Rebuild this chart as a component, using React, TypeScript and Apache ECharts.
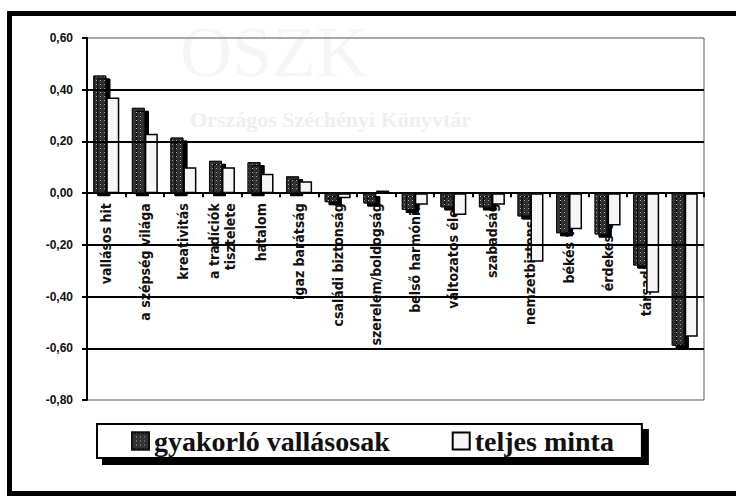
import React, { useEffect, useRef } from "react";
import * as echarts from "echarts";

const categories = [
  "vallásos hit",
  "a szépség világa",
  "kreativitás",
  "a tradíciók\ntisztelete",
  "hatalom",
  "igaz barátság",
  "családi biztonság",
  "szerelem/boldogság",
  "belső harmónia",
  "változatos élet",
  "szabadság",
  "nemzetbiztonság",
  "békés világ",
  "érdekes élet",
  "társadalmi rend",
  "gazdagság",
];

const gyakorloVallasosak = [
  0.455, 0.33, 0.215, 0.125, 0.12, 0.065, -0.035, -0.04, -0.065, -0.055, -0.055,
  -0.09, -0.155, -0.16, -0.28, -0.59,
];

const teljesMinta = [
  0.37, 0.23, 0.1, 0.1, 0.075, 0.046, -0.02, 0.01, -0.045, -0.085, -0.045,
  -0.265, -0.14, -0.125, -0.385, -0.555,
];

const seriesNames = ["gyakorló vallásosak", "teljes minta"];
const gridValues = [0.4, 0.2, -0.2, -0.4, -0.6];
const yMin = -0.8;
const yMax = 0.6;

export default function App() {
  const ref = useRef<HTMLDivElement>(null);

  useEffect(() => {
    if (!ref.current) return;
    const chart = echarts.init(ref.current, undefined, { renderer: "svg" });
    const labelFont = "'Liberation Sans Narrow', 'DejaVu Sans Condensed', 'Liberation Sans', sans-serif";
    const gridTop = 38;
    const gridBottom = 98;
    const gridHeight = 498 - gridTop - gridBottom;
    const zeroOffset = -(gridHeight * (0 - yMin)) / (yMax - yMin);
    chart.setOption({
      animation: false,
      backgroundColor: "#ffffff",
      grid: { left: 87, right: 32, top: gridTop, bottom: gridBottom, show: true, borderColor: "#555", borderWidth: 1 },
      legend: {
        left: 97,
        top: 424,
        padding: [3, 28, 3, 34],
        itemGap: 62,
        itemWidth: 17,
        itemHeight: 17,
        icon: "rect",
        borderColor: "#000",
        borderWidth: 2,
        backgroundColor: "#fff",
        shadowColor: "#000",
        shadowOffsetX: 6,
        shadowOffsetY: 6,
        shadowBlur: 0,
        textStyle: {
          fontFamily: "'Liberation Serif', serif",
          fontWeight: "bold",
          fontSize: 28,
          color: "#111",
        },
        data: seriesNames,
      },
      graphic: [
        {
          type: "text",
          left: 180,
          top: 16,
          z: -10,
          silent: true,
          style: { text: "OSZK", fontFamily: "'Liberation Serif', serif", fontSize: 72, fill: "#f6f6f6" },
        },
        {
          type: "text",
          left: 190,
          top: 108,
          z: -10,
          silent: true,
          style: { text: "Országos Széchényi Könyvtár", fontFamily: "'Liberation Serif', serif", fontWeight: "bold", fontSize: 22, fill: "#efefef" },
        },
        {
          type: "rect",
          z: 100,
          silent: true,
          shape: { x: 9.5, y: 13.5, width: 740, height: 480 },
          style: { fill: "none", stroke: "#000", lineWidth: 5 },
        },
      ],
      xAxis: {
        type: "category",
        data: categories,
        position: "bottom",
        offset: zeroOffset,
        axisLine: { onZero: false, lineStyle: { color: "#000", width: 2 } },
        axisTick: { show: true, interval: 0, length: 4, lineStyle: { color: "#000", width: 2 } },
        axisLabel: {
          interval: 0,
          rotate: 90,
          margin: 10,
          fontFamily: labelFont,
          fontWeight: "bold",
          fontSize: 14,
          color: "#111",
          lineHeight: 16,
        },
      },
      yAxis: {
        type: "value",
        min: yMin,
        max: yMax,
        interval: 0.2,
        axisLine: { show: true, lineStyle: { color: "#000", width: 2 } },
        axisTick: { show: true, length: 5, lineStyle: { color: "#000", width: 2 } },
        axisLabel: {
          margin: 14,
          fontFamily: "'Liberation Sans', Arial, sans-serif",
          fontWeight: "bold",
          fontSize: 12,
          color: "#111",
          formatter: (v: number) => v.toFixed(2).replace(".", ","),
        },
        splitLine: { show: false },
      },
      series: [
        {
          type: "line",
          data: [],
          silent: true,
          z: 1,
          markLine: {
            silent: true,
            symbol: "none",
            label: { show: false },
            lineStyle: { color: "#000", width: 2, type: "solid" },
            data: gridValues.map((v) => ({ yAxis: v })),
          },
        },
        {
          name: seriesNames[0],
          type: "bar",
          z: 3,
          data: gyakorloVallasosak,
          barWidth: 13,
          barGap: "0%",
          itemStyle: {
            color: "#333333",
            borderColor: "#111",
            borderWidth: 1,
            shadowColor: "#000",
            shadowOffsetX: 4,
            shadowOffsetY: 3,
            shadowBlur: 0,
            decal: {
              symbol: "rect",
              symbolSize: 1,
              color: "rgba(255,255,255,0.55)",
              dashArrayX: [[1, 3]],
              dashArrayY: [1, 3],
              rotation: 0,
            },
          },
        },
        {
          name: seriesNames[1],
          type: "bar",
          z: 3,
          data: teljesMinta,
          barWidth: 13,
          barGap: "0%",
          itemStyle: {
            color: "#f6f6f6",
            borderColor: "#000",
            borderWidth: 1.5,
          },
        },
      ],
    });
    return () => chart.dispose();
  }, []);

  return (
    <div
      ref={ref}
      style={{ position: "fixed", left: 0, top: 0, width: 736, height: 498, background: "#fff" }}
    />
  );
}
